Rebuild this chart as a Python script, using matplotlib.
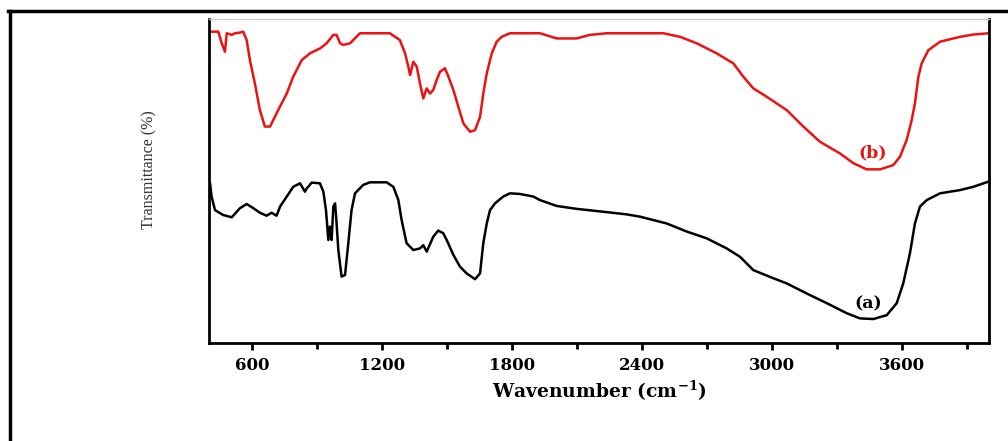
import matplotlib.pyplot as plt
from matplotlib.lines import Line2D

# FTIR spectra, wavenumber (cm-1) vs transmittance (arbitrary %)
wn_b = [405, 443, 459, 474, 482, 505, 520, 543, 558, 574, 589, 612, 635, 658, 682,
        712, 759, 789, 828, 866, 912, 943, 974, 989, 1005, 1020, 1051, 1066, 1097,
        1235, 1281, 1305, 1320, 1328, 1343, 1359, 1374, 1389, 1405, 1420, 1435, 1451,
        1466, 1489, 1505, 1528, 1551, 1574, 1605, 1628, 1651, 1666, 1682, 1705, 1728,
        1751, 1789, 1928, 2005, 2097, 2158, 2235, 2497, 2574, 2651, 2743, 2820, 2866,
        2912, 2974, 3066, 3143, 3220, 3312, 3374, 3435, 3497, 3558, 3589, 3620, 3643,
        3658, 3674, 3689, 3720, 3774, 3866, 3927, 3997]
t_b = [96.1, 96.1, 92.5, 89.9, 95.6, 95.1, 95.6, 95.8, 96.1, 93.5, 87.3, 80.1, 71.9,
       66.8, 66.8, 70.9, 77.0, 82.2, 87.3, 89.4, 90.9, 92.5, 95.1, 95.1, 92.5, 92.0,
       92.5, 93.5, 95.6, 95.6, 93.5, 89.4, 85.3, 82.7, 86.8, 85.3, 80.1, 75.5, 78.6,
       77.0, 78.1, 81.2, 83.7, 84.8, 82.2, 78.1, 72.9, 67.8, 65.2, 65.7, 69.8, 77.0,
       83.2, 89.4, 93.0, 94.5, 95.6, 95.6, 94.0, 94.0, 95.1, 95.6, 95.6, 94.5, 92.5,
       89.4, 86.3, 82.2, 78.6, 76.0, 71.9, 66.8, 62.1, 58.5, 55.5, 53.6, 53.6, 54.9,
       57.5, 62.7, 68.8, 74.0, 82.2, 86.3, 90.4, 93.0, 94.5, 95.2, 95.6]

wn_a = [405, 412, 428, 466, 505, 543, 574, 605, 635, 666, 689, 712, 728, 759, 789,
        820, 843, 851, 874, 912, 928, 940, 951, 958, 966, 974, 982, 989, 997, 1012,
        1028, 1043, 1058, 1074, 1112, 1143, 1220, 1251, 1274, 1289, 1312, 1343, 1374,
        1389, 1405, 1435, 1458, 1481, 1497, 1528, 1558, 1589, 1628, 1651, 1666, 1682,
        1697, 1720, 1758, 1789, 1835, 1897, 1928, 2005, 2097, 2235, 2328, 2389, 2512,
        2605, 2697, 2789, 2851, 2912, 3004, 3066, 3158, 3251, 3343, 3404, 3466, 3528,
        3574, 3604, 3635, 3658, 3681, 3712, 3774, 3866, 3927, 3997]
t_a = [49.3, 45.2, 41.0, 39.5, 38.8, 41.6, 42.9, 41.6, 40.2, 39.3, 40.2, 39.3, 42.1,
       45.2, 48.2, 49.3, 46.7, 47.7, 49.5, 49.3, 46.7, 41.0, 31.8, 35.9, 31.8, 42.1,
       43.1, 36.9, 28.7, 20.5, 21.0, 30.8, 41.0, 46.2, 48.8, 49.6, 49.6, 48.2, 44.1,
       38.0, 30.8, 28.7, 29.2, 30.2, 28.2, 32.8, 34.7, 33.9, 31.8, 27.2, 23.6, 21.5,
       19.7, 21.5, 30.8, 36.9, 41.0, 43.1, 45.2, 46.2, 46.0, 45.2, 44.1, 42.3, 41.4,
       40.4, 39.7, 39.0, 36.9, 34.4, 32.3, 29.2, 26.6, 22.5, 20.0, 18.4, 15.3, 12.3,
       9.2, 7.6, 7.4, 8.6, 12.3, 18.4, 27.7, 36.9, 42.1, 44.1, 46.2, 47.2, 48.2, 49.8]

major_ticks = [600, 1200, 1800, 2400, 3000, 3600]
minor_ticks = [900, 1500, 2100, 2700, 3300, 3900]

plt.rcParams['font.family'] = ['Liberation Serif', 'DejaVu Serif']
plt.rcParams['mathtext.fontset'] = 'dejavuserif'
wide = ['DejaVu Serif']

fig = plt.figure(figsize=(10.08, 4.41), dpi=100)
ax = fig.add_axes([0.2073, 0.2222, 0.7739, 0.7347])

ax.plot(wn_b, t_b, color='#ee1111', lw=1.8)
ax.plot(wn_a, t_a, color='black', lw=1.8)

ax.text(3440, 12.0, '(a)', color='black', fontsize=12.5, fontweight='bold', family=wide,
        ha='center', va='center')
ax.text(3462, 58.6, '(b)', color='#ee1111', fontsize=12.5, fontweight='bold', family=wide,
        ha='center', va='center')

ax.set_xlim(400, 4000)
ax.set_ylim(0, 100)
ax.set_xticks(major_ticks)
ax.set_xticks(minor_ticks, minor=True)
ax.set_xticklabels([str(t) for t in major_ticks], fontsize=12, fontweight='bold', family=wide)
ax.set_yticks([])
ax.tick_params(axis='x', which='major', direction='out', length=5, width=2, pad=5)
ax.tick_params(axis='x', which='minor', direction='out', length=4, width=2)

for s in ['left', 'bottom', 'right']:
    ax.spines[s].set_linewidth(2)
ax.spines['top'].set_color('#cccccc')
ax.spines['top'].set_linewidth(1)

ax.set_xlabel('Wavenumber (cm$^{\\mathbf{-1}}$)', fontsize=13.5, fontweight='bold',
              family=wide, labelpad=4)
fig.text(149 / 1008, 1 - 170 / 441, 'Transmittance (%)', rotation=90, fontsize=11.5,
         color='#333333', ha='center', va='center')

# outer frame of the original figure (left and top edges only)
fig.add_artist(Line2D([9.5 / 1008, 9.5 / 1008], [0, 1 - 11 / 441], color='black', lw=2.5,
                      transform=fig.transFigure))
fig.add_artist(Line2D([8 / 1008, 1], [1 - 11 / 441, 1 - 11 / 441], color='black', lw=2.5,
                      transform=fig.transFigure))

fig.savefig('out.png', dpi=100)
